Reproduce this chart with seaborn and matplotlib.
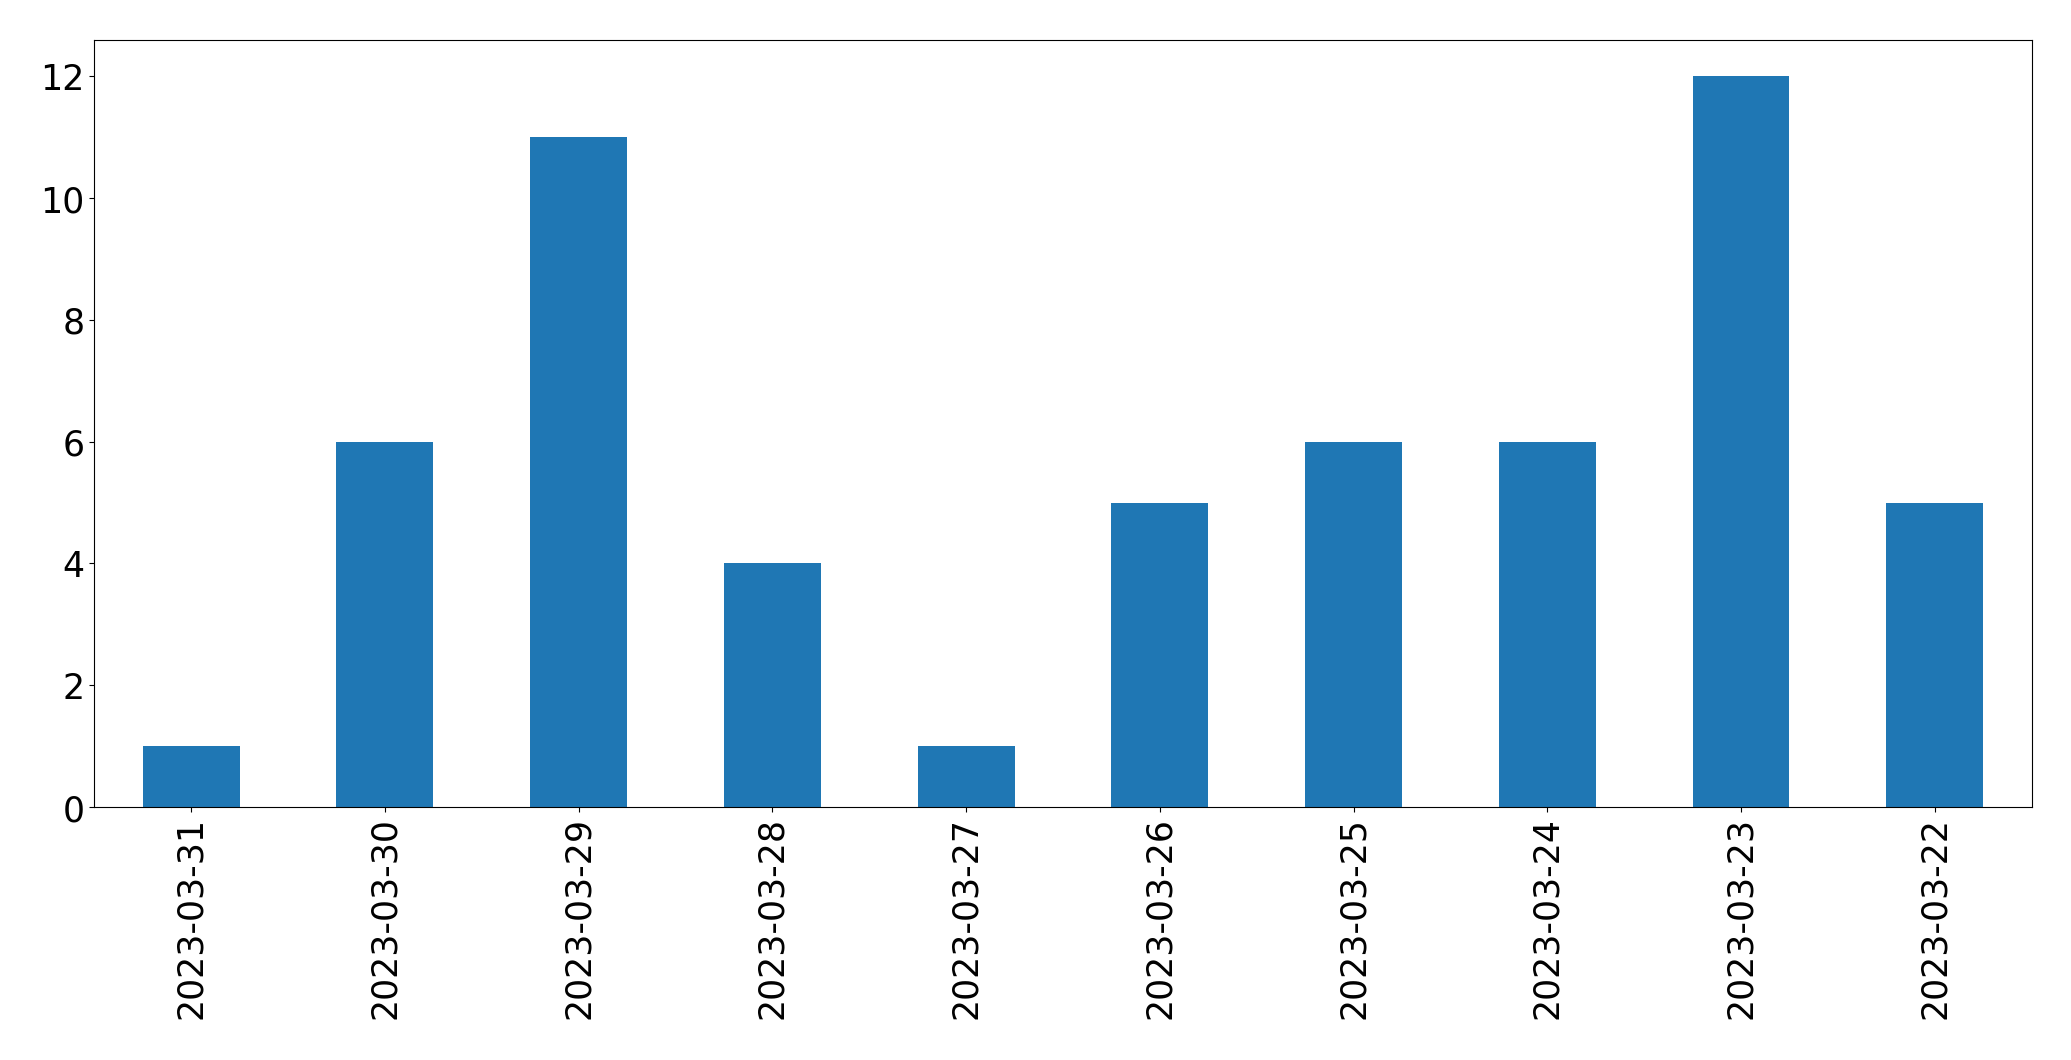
import pandas as pd
import seaborn as sns
import matplotlib.pyplot as plt

# Counts per day, in the order shown on the chart
dates = ['2023-03-31', '2023-03-30', '2023-03-29', '2023-03-28', '2023-03-27',
         '2023-03-26', '2023-03-25', '2023-03-24', '2023-03-23', '2023-03-22']
counts = [1, 6, 11, 4, 1, 5, 6, 6, 12, 5]

df = pd.DataFrame({'date': dates, 'count': counts})

fig, ax = plt.subplots(figsize=(20.71, 10.605), dpi=100)
sns.barplot(x='date', y='count', data=df, order=dates, color='#1f77b4',
            saturation=1, width=0.5, ax=ax)

ax.set_xlim(-0.5, len(dates) - 0.5)
ax.set_ylim(0, 12.6)
ax.set_xlabel('')
ax.set_ylabel('')
ax.tick_params(axis='both', labelsize=25)
ax.tick_params(axis='x', labelrotation=90)

plt.subplots_adjust(left=0.0455, right=0.981, top=0.962, bottom=0.2385)
plt.savefig('out.png', dpi=100)
